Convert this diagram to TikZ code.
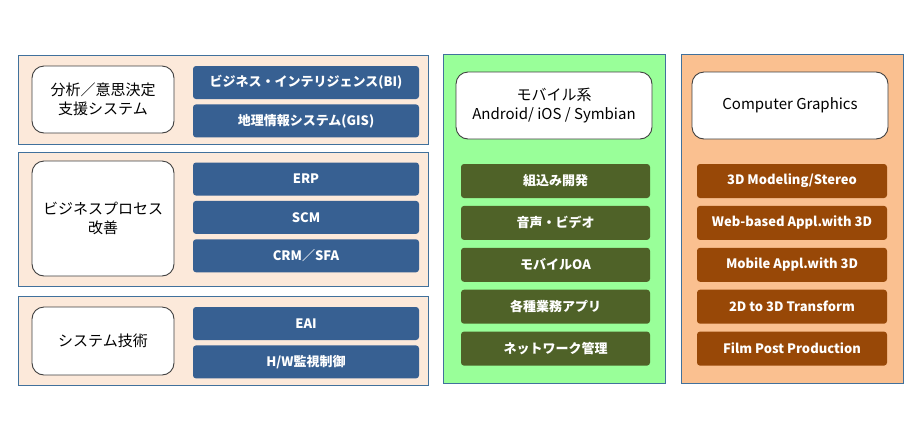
\documentclass[tikz,border=0pt]{standalone}
\usepackage{fontspec}
\usepackage{xcolor}
\usepackage{tikz}
\usetikzlibrary{positioning}
\newfontfamily\jpfont{Noto Sans CJK JP}
\definecolor{panelpeach}{HTML}{FCE9DA}
\definecolor{panelline}{HTML}{41719C}
\definecolor{sysblue}{HTML}{376092}
\definecolor{mobilegreen}{HTML}{99FF99}
\definecolor{mobiledark}{HTML}{4F6228}
\definecolor{cgpeach}{HTML}{FAC090}
\definecolor{cgbrown}{HTML}{984807}

\begin{document}
\begin{tikzpicture}[
    x=1pt, y=-1pt,
    node distance=5pt,
    panel/.style={rectangle, draw=panelline, line width=0.8pt, inner sep=0pt},
    title/.style={rectangle, draw=black!75, fill=white, rounded corners=12pt, line width=0.9pt, align=center, inner sep=0pt, font=\jpfont\fontsize{15}{19}\selectfont},
    item/.style={rectangle, rounded corners=3pt, text=white, inner sep=0pt, font=\jpfont\bfseries\fontsize{13}{15}\selectfont},
    sysitem/.style={item, fill=sysblue, minimum width=226pt, minimum height=33pt},
    mobileitem/.style={item, fill=mobiledark, minimum width=189pt, minimum height=34pt},
    cgitem/.style={item, fill=cgbrown, minimum width=190pt, minimum height=34pt}
]
\useasboundingbox[fill=white] (0,0) rectangle (920,440);

% Left panels
\node[panel, fill=panelpeach, minimum width=410pt, minimum height=89pt] (decpanel) at (223,99.5) {};
\node[panel, fill=panelpeach, minimum width=410pt, minimum height=134pt] (procpanel) at (223,219) {};
\node[panel, fill=panelpeach, minimum width=410pt, minimum height=89pt] (techpanel) at (223,340.5) {};

\node[title, minimum width=142pt, minimum height=67pt] (dectitle) at (103,99.5) {分析／意思決定\\支援システム};
\node[title, minimum width=142pt, minimum height=115pt] (proctitle) at (103,218.5) {ビジネスプロセス\\改善};
\node[title, minimum width=142pt, minimum height=68pt] (techtitle) at (103,341) {システム技術};

\node[sysitem] (bi) at (306,82.5) {ビジネス・インテリジェンス(BI)};
\node[sysitem, below=of bi] (gis) {地理情報システム(GIS)};

\node[sysitem] (erp) at (306,179) {ERP};
\node[sysitem, below=of erp] (scm) {SCM};
\node[sysitem, below=of scm] (crm) {CRM／SFA};

\node[sysitem] (eai) at (306,323.5) {EAI};
\node[sysitem, below=of eai] (hw) {H/W監視制御};

% Mobile panel
\node[panel, fill=mobilegreen, minimum width=222pt, minimum height=329pt] (mobilepanel) at (554,218.5) {};
\node[title, minimum width=196pt, minimum height=67pt] (mobiletitle) at (554,105.5) {モバイル系\\Android/ iOS / Symbian};

\node[mobileitem] (embedded) at (555.5,181) {組込み開発};
\node[mobileitem, below=7.5pt of embedded] (video) {音声・ビデオ};
\node[mobileitem, below=7.5pt of video] (mobileoa) {モバイルOA};
\node[mobileitem, below=7.5pt of mobileoa] (bizapp) {各種業務アプリ};
\node[mobileitem, below=7.5pt of bizapp] (network) {ネットワーク管理};

% Computer graphics panel
\node[panel, fill=cgpeach, minimum width=222pt, minimum height=329pt] (cgpanel) at (792,218.5) {};
\node[title, minimum width=196pt, minimum height=67pt] (cgtitle) at (790,105.5) {Computer Graphics};

\node[cgitem] (modeling) at (792,181) {3D Modeling/Stereo};
\node[cgitem, below=7.5pt of modeling] (webappl) {Web-based Appl.with 3D};
\node[cgitem, below=7.5pt of webappl] (mobileappl) {Mobile Appl.with 3D};
\node[cgitem, below=7.5pt of mobileappl] (transform) {2D to 3D Transform};
\node[cgitem, below=7.5pt of transform] (film) {Film Post Production};

\end{tikzpicture}
\end{document}
